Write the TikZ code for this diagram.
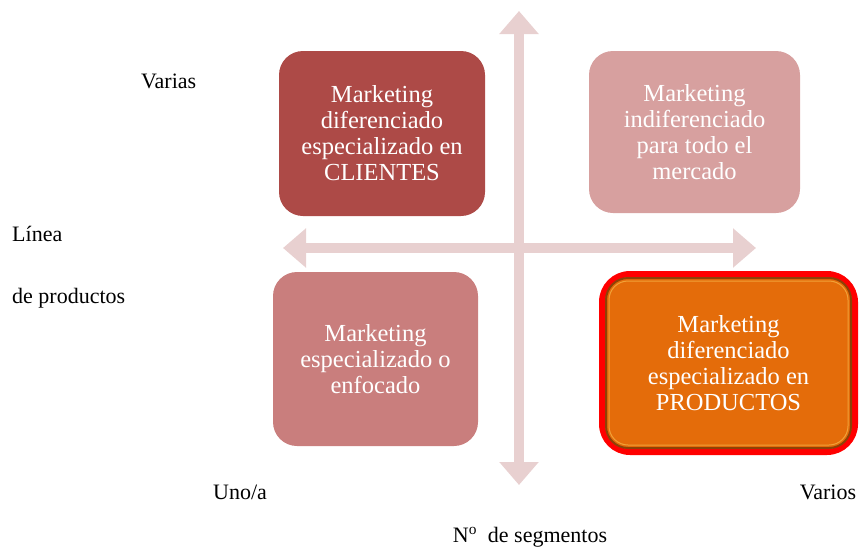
\documentclass[tikz,border=0pt]{standalone}
\usepackage{fontspec}
\setmainfont{Liberation Serif}
\usetikzlibrary{arrows.meta, calc}

\definecolor{colClientes}{HTML}{AD4A47}
\definecolor{colMercado}{HTML}{D7A09F}
\definecolor{colEnfocado}{HTML}{C97E7D}
\definecolor{colEjes}{HTML}{E8D0D0}
\definecolor{colNaranja}{HTML}{E46C0A}
\definecolor{colAnillo}{HTML}{8E4206}
\definecolor{colBrillo}{HTML}{F7B84A}

\begin{document}
\begin{tikzpicture}[x=1pt, y=-1pt,
		caja/.style={rectangle, rounded corners=24pt, text=white, align=center, outer sep=0pt, inner sep=0pt, font=\fontsize{24.5}{26}\selectfont},
		etiqueta/.style={inner sep=0pt, font=\fontsize{22}{24}\selectfont},
		eje/.style={colEjes, line width=10pt, {Triangle[length=23pt, width=38pt]}-{Triangle[length=23pt, width=38pt]}}]
		\useasboundingbox (0,0) rectangle (859,546);

		\coordinate (arriba) at (519,11);
		\coordinate (abajo) at (519,485);
		\coordinate (izq) at (283,248);
		\coordinate (der) at (756,248);
		\draw [eje] (izq) -- (der);
		\draw [eje] (abajo) -- (arriba);

		\node (clientes) [caja, fill=colClientes, minimum width=206pt, minimum height=165pt] at (382,133.5) {Marketing\\diferenciado\\especializado en\\CLIENTES};
		\node (mercado) [caja, fill=colMercado, minimum width=211pt, minimum height=162pt] at (694.5,132) {Marketing\\indiferenciado\\para todo el\\mercado};
		\node (enfocado) [caja, fill=colEnfocado, minimum width=205pt, minimum height=174pt] at (375.5,359) {Marketing\\especializado o\\enfocado};
		\node (productos) [caja, fill=colNaranja, draw=red, line width=6pt, rounded corners=28pt, minimum width=253pt, minimum height=178pt] at (728.5,363) {};
		\draw [colAnillo, line width=2pt, rounded corners=22pt] ($(productos.north west)+(4,4)$) rectangle ($(productos.south east)+(-4,-4)$);
		\draw [colBrillo, line width=1pt, opacity=.7, rounded corners=19pt] ($(productos.north west)+(7,7)$) rectangle ($(productos.south east)+(-7,-7)$);
		\node (textoproductos) [caja, inner sep=0pt] at (productos.center) {Marketing\\diferenciado\\especializado en\\PRODUCTOS};

		\node (varias) [etiqueta, anchor=base west] at (141,88) {Varias};
		\node (linea) [etiqueta, anchor=base west] at (12,241) {Línea};
		\node (deproductos) [etiqueta, anchor=base west] at (12,303) {de productos};
		\node (unoa) [etiqueta, anchor=base] at (240,499) {Uno/a};
		\node (varios) [etiqueta, anchor=base] at (828,499) {Varios};
		\node (segmentos) [etiqueta, anchor=base] at (530,542) {N\textsuperscript{o}\ \ de segmentos};
	\end{tikzpicture}
\end{document}
